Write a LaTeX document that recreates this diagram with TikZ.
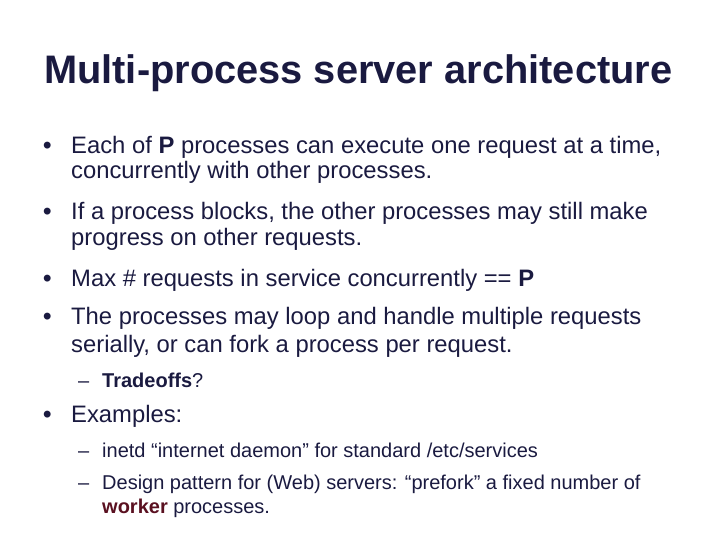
\documentclass[tikz,border=0pt]{standalone}
\usepackage{fontspec}
\setmainfont{Liberation Sans}
\definecolor{navy}{HTML}{1A1A40}
\definecolor{wine}{HTML}{5A1020}
\begin{document}
\begin{tikzpicture}[x=1pt,y=-1pt,
  every node/.style={inner sep=0pt,anchor=base west,text=navy},
  ttl/.style={font=\fontsize{39.8}{44}\selectfont\bfseries},
  body/.style={font=\fontsize{23.8}{28}\selectfont},
  blt/.style={font=\fontsize{24}{28}\selectfont\bfseries},
  sub/.style={font=\fontsize{20}{24}\selectfont}]
\useasboundingbox (0,0) rectangle (720,540);
\node[ttl] (title) at (44,84) {Multi-process server architecture};
\node[blt] (b1) at (43,154) {•};
\node[body] (t1a) at (71,154) {Each of \textbf{P} processes can execute one request at a time,};
\node[body] (t1b) at (71,179) {concurrently with other processes.};
\node[blt] (b2) at (43,220) {•};
\node[body] (t2a) at (71,220) {If a process blocks, the other processes may still make};
\node[body] (t2b) at (71,245) {progress on other requests.};
\node[blt] (b3) at (43,286) {•};
\node[body] (t3) at (71,286) {Max \# requests in service concurrently == \textbf{P}};
\node[blt] (b4) at (43,324) {•};
\node[body] (t4a) at (71,324) {The processes may loop and handle multiple requests};
\node[body] (t4b) at (71,352) {serially, or can fork a process per request.};
\node[sub] (d1) at (78,387) {–};
\node[sub] (s1) at (102,387) {\textbf{Tradeoffs}?};
\node[blt] (b5) at (43,422) {•};
\node[body] (t5) at (71,422) {Examples:};
\node[sub] (d2) at (78,457) {–};
\node[sub] (s2) at (102,457) {inetd “internet daemon” for standard /etc/services};
\node[sub] (d3) at (78,489) {–};
\node[sub] (s3a) at (102,489) {Design pattern for (Web) servers: “prefork” a fixed number of};
\node[sub] (s3b) at (102,513) {\textcolor{wine}{\textbf{worker}} processes.};
\end{tikzpicture}
\end{document}
